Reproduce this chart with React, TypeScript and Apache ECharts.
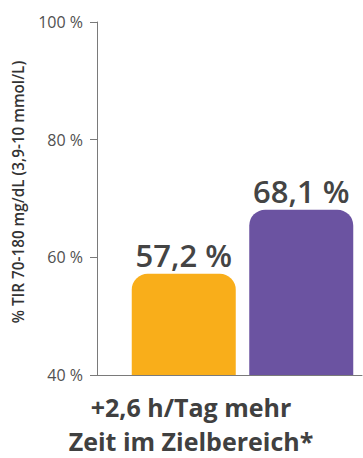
import React, { useEffect, useRef } from "react";
import * as echarts from "echarts";

const categories = ["Vergleich", "Sensor"];
const values = [57.2, 68.1];
const barColors = ["#F9AE1A", "#6B53A1"];
const yTicks = [40, 60, 80, 100];
const yTitle = "% TIR 70-180 mg/dL (3,9-10 mmol/L)";
const footLines = ["+2,6 h/Tag mehr", "Zeit im Zielbereich*"];

const fmt = (v: number) => v.toFixed(1).replace(".", ",") + " %";

export default function App() {
  const ref = useRef<HTMLDivElement>(null);
  useEffect(() => {
    const chart = echarts.init(ref.current!, null, { renderer: "svg" });
    const font = "'Open Sans', sans-serif";
    chart.setOption({
      animation: false,
      grid: [
        { left: 97, right: 1, top: 22, bottom: 83 },
        { left: 125, right: 3, top: 22, bottom: 83 },
      ],
      xAxis: [
        {
          gridIndex: 0,
          type: "category",
          data: categories,
          axisLine: { lineStyle: { color: "#7a7a7a", width: 1 } },
          axisTick: { show: false },
          axisLabel: { show: false },
        },
        {
          gridIndex: 1,
          type: "category",
          data: categories,
          show: false,
        },
      ],
      yAxis: [
        {
          gridIndex: 0,
          type: "value",
          min: yTicks[0],
          max: yTicks[yTicks.length - 1],
          interval: 20,
          axisLine: { show: true, lineStyle: { color: "#7a7a7a", width: 1 } },
          axisTick: { show: true, length: 7, lineStyle: { color: "#7a7a7a" } },
          splitLine: { show: false },
          axisLabel: {
            margin: 14,
            color: "#505050",
            fontSize: 16,
            fontFamily: font,
            formatter: (v: number) => v + " %",
          },
        },
        {
          gridIndex: 1,
          type: "value",
          min: yTicks[0],
          max: yTicks[yTicks.length - 1],
          interval: 20,
          show: false,
        },
      ],
      series: [
        {
          type: "bar",
          xAxisIndex: 1,
          yAxisIndex: 1,
          barWidth: 104,
          data: values.map((v, i) => ({
            value: v,
            itemStyle: { color: barColors[i], borderRadius: [16, 16, 0, 0] },
          })),
          label: {
            show: true,
            position: "top",
            distance: 3,
            color: "#444444",
            fontSize: 31,
            fontWeight: 600,
            fontFamily: font,
            formatter: (p: any) => fmt(p.value),
          },
        },
      ],
      graphic: [
        {
          type: "text",
          x: 18,
          y: 192,
          rotation: Math.PI / 2,
          style: {
            text: yTitle,
            fill: "#333333",
            fontSize: 15.3,
            fontFamily: font,
            fontWeight: 600,
            align: "center",
            verticalAlign: "middle",
          },
        },
        ...footLines.map((line, i) => ({
          type: "text",
          x: 191,
          y: 407 + i * 34,
          style: {
            text: line,
            fill: "#404040",
            fontSize: 25,
            fontWeight: 700,
            fontFamily: font,
            align: "center",
            verticalAlign: "middle",
          },
        })),
      ],
    });
    return () => chart.dispose();
  }, []);
  return <div ref={ref} style={{ width: 363, height: 458, position: "absolute", left: 0, top: 0 }} />;
}
